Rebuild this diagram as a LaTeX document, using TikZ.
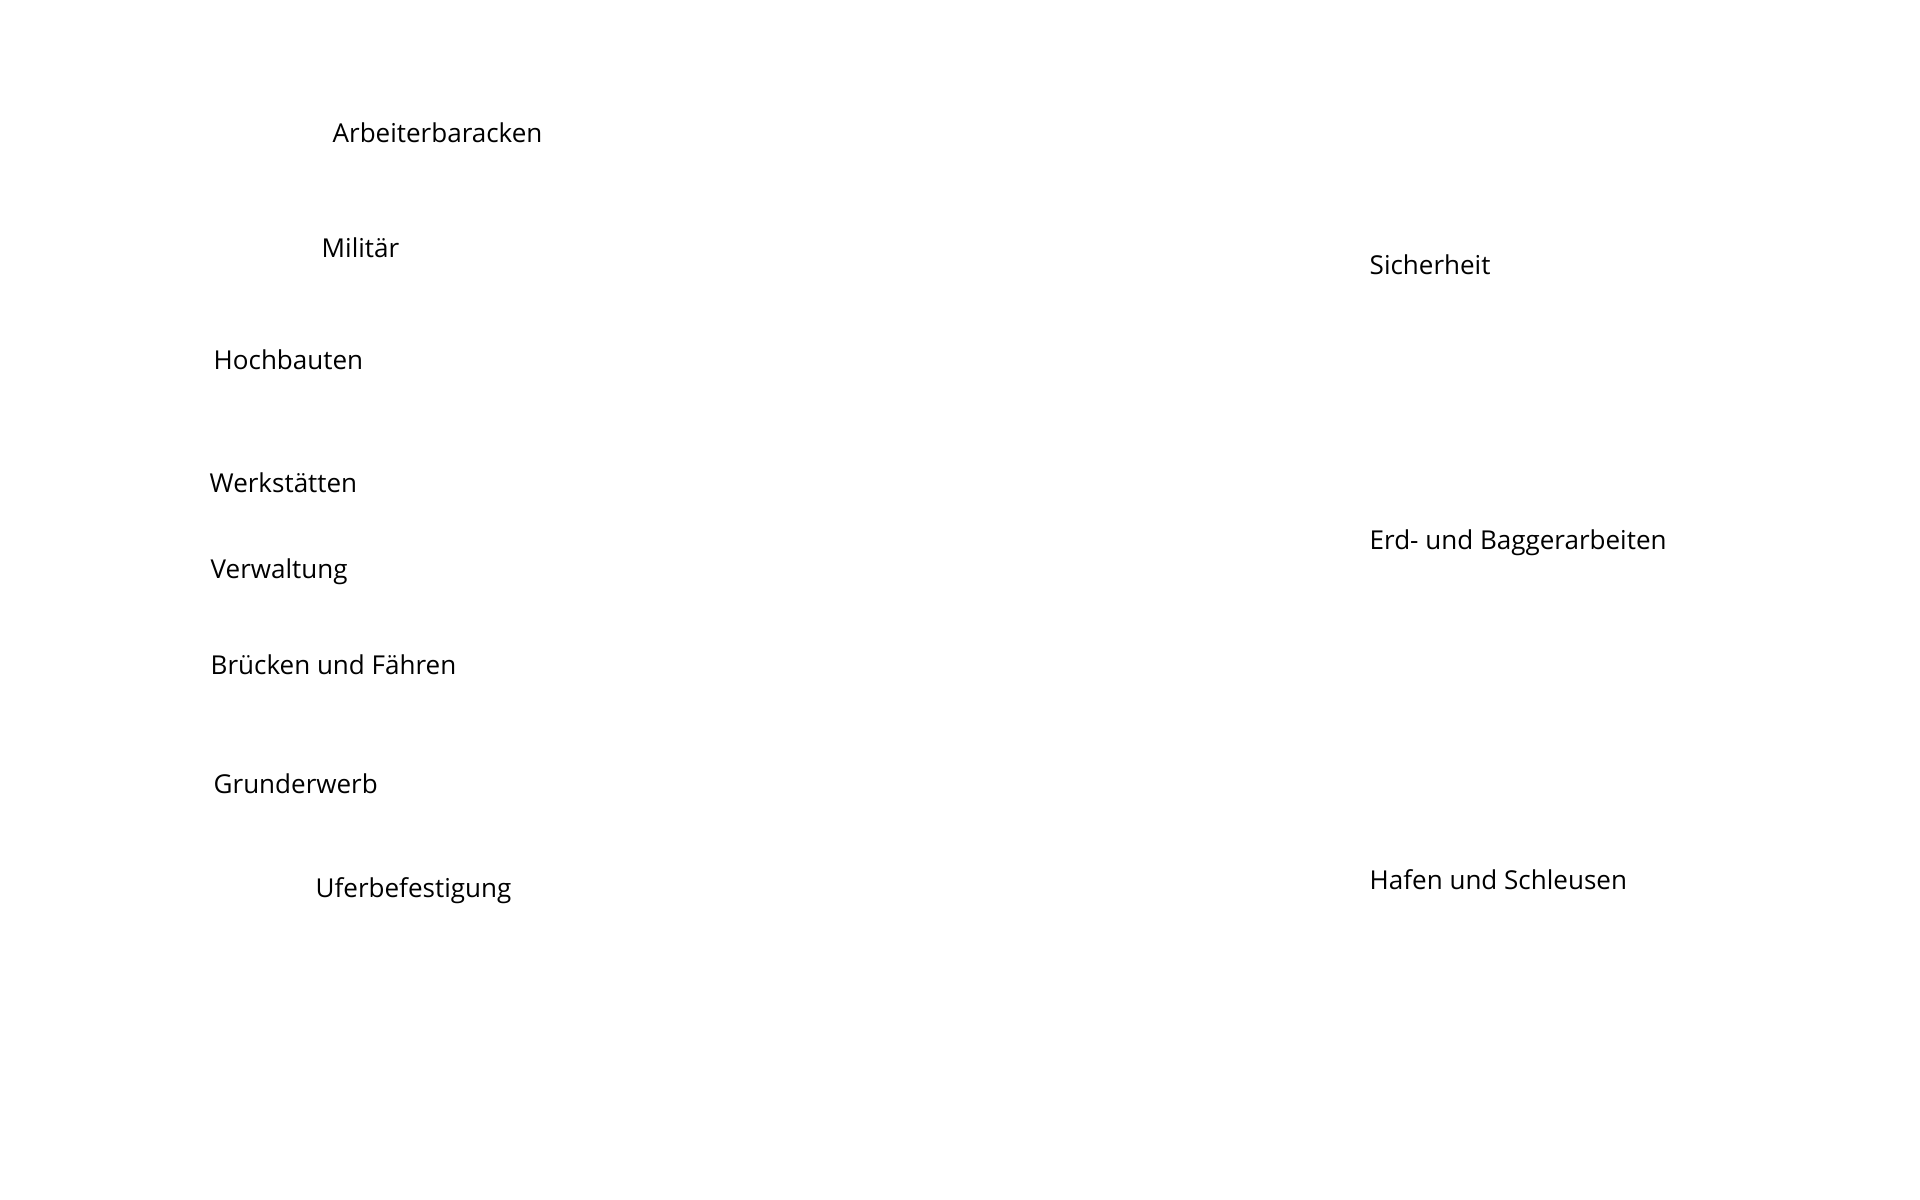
\documentclass[tikz,border=0pt]{standalone}
\usepackage{fontspec}
\setmainfont{Open Sans}
\usepackage{tikz}
\usetikzlibrary{positioning,calc}

\begin{document}
\begin{tikzpicture}[line join=round, x=0.01cm, y=-0.01cm,
  lbl/.style={anchor=base west, inner sep=0pt, font=\fontsize{7.4pt}{8.9pt}\selectfont}]
\useasboundingbox (0,0) rectangle (1920,1200);
% left column
\node[lbl] (Arb)  at (332,142) {Arbeiterbaracken};
\node[lbl] (Mil)  at (321,257) {Militär};
\node[lbl] (Hoch) at (213,369) {Hochbauten};
\node[lbl] (Werk) at (209,492) {Werkstätten};
\node[lbl] (Verw) at (210,578) {Verwaltung};
\node[lbl] (Brue) at (210,674) {Brücken und Fähren};
\node[lbl] (Grund) at (213,793) {Grunderwerb};
\node[lbl] (Ufer) at (315,897) {Uferbefestigung};
% right column
\node[lbl] (Sich) at (1369,274) {Sicherheit};
\node[lbl] (Erd)  at (1369,549) {Erd- und Baggerarbeiten};
\node[lbl] (Haf)  at (1369,889) {Hafen und Schleusen};
\end{tikzpicture}
\end{document}
